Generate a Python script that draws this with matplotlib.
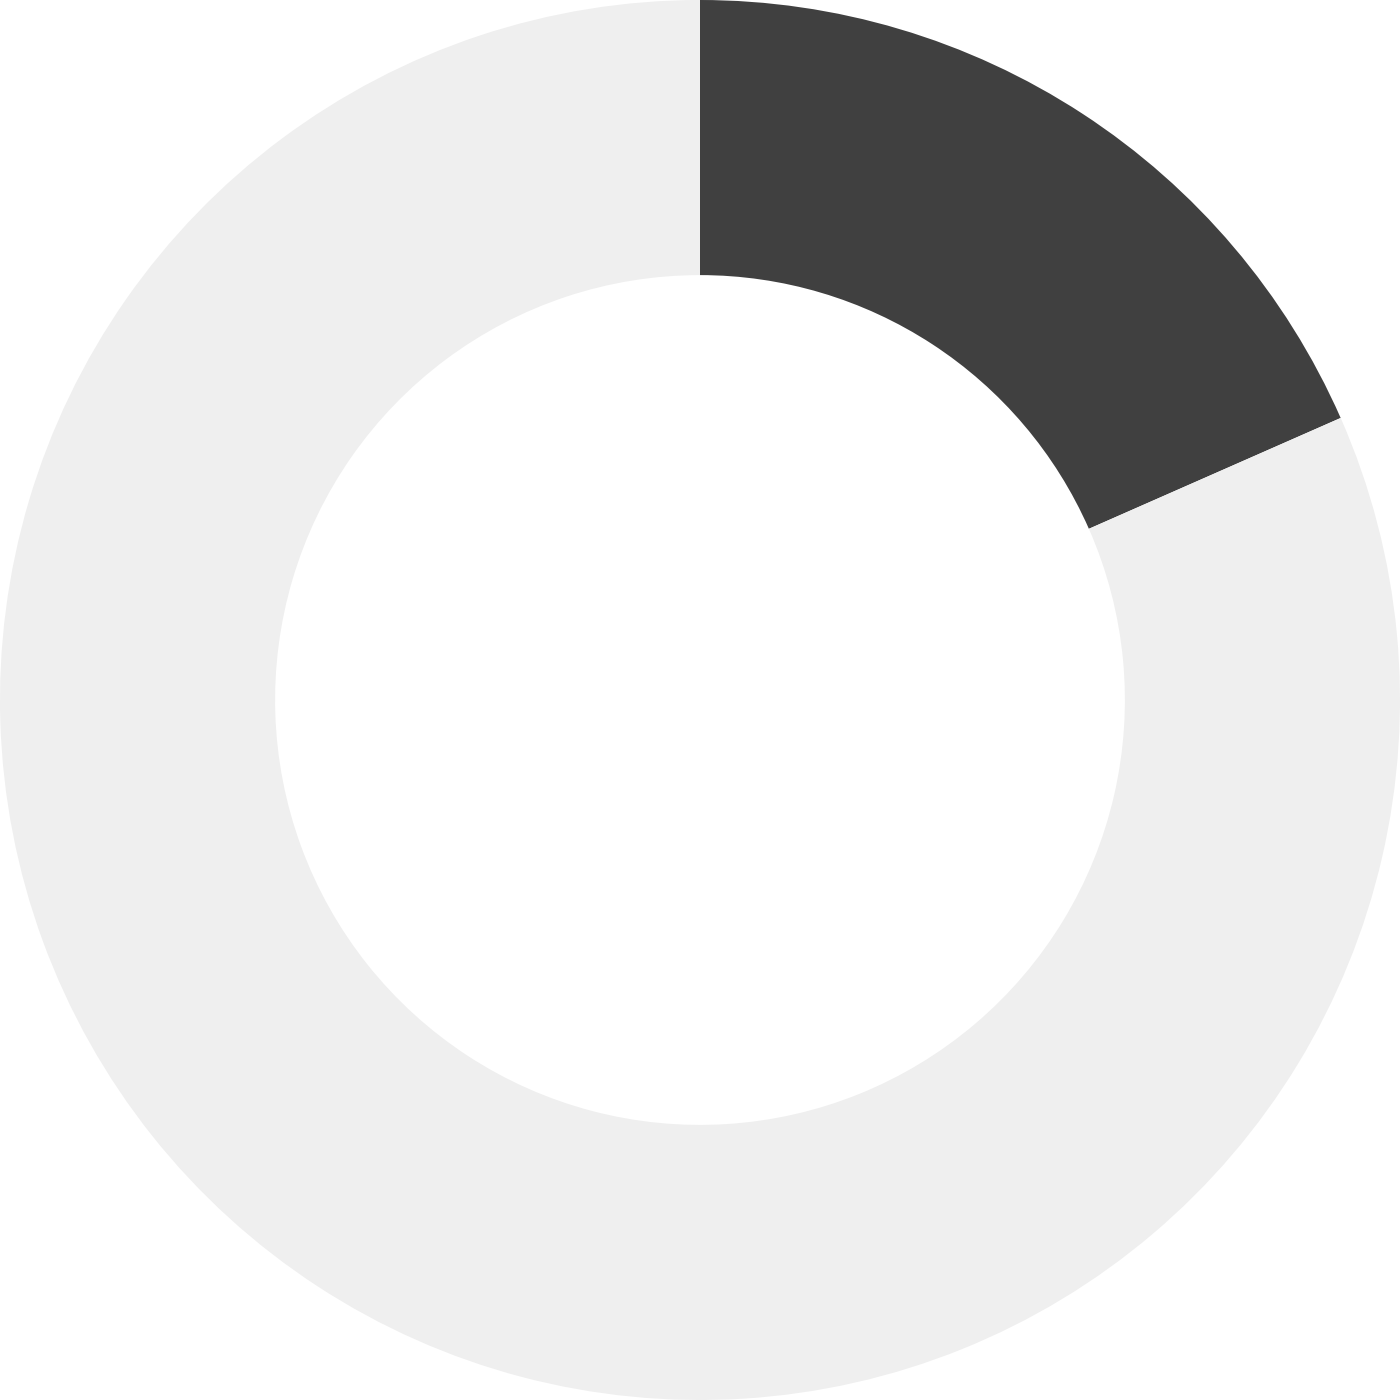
import matplotlib
matplotlib.use("Agg")
import matplotlib.pyplot as plt

labels = ["Value", "Remainder"]
values = [18.4, 81.6]
colors = ["#404040", "#efefef"]

fig = plt.figure(figsize=(14, 14), dpi=100)
ax = fig.add_axes([0, 0, 1, 1])
ax.pie(values, colors=colors, startangle=90, counterclock=False,
       radius=1.0, wedgeprops=dict(width=0.393, edgecolor="none", linewidth=0))
ax.set_xlim(-1, 1)
ax.set_ylim(-1, 1)
ax.set_aspect("equal")
ax.axis("off")
fig.savefig("out.png", dpi=100, facecolor="white")
